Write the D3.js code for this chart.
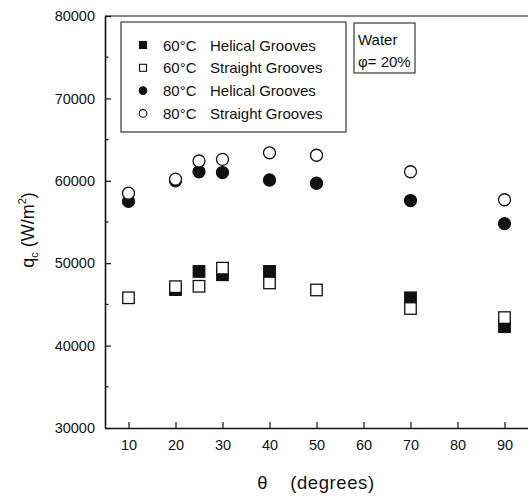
<!DOCTYPE html>
<html>
<head>
<meta charset="utf-8">
<script src="https://cdn.jsdelivr.net/npm/d3@7"></script>
<style>
  html, body { margin: 0; padding: 0; background: #fff; }
  svg { display: block; font-family: "Liberation Sans", Arial, sans-serif; }
</style>
</head>
<body>
<svg id="chart" width="528" height="496"></svg>
<script>
// Inclination angle of the tube (degrees)
const theta = [10, 20, 25, 30, 40, 50, 70, 90];

// Heat flux q_c (W/m^2) for each configuration; null = no point
const helical60  = [null, 46800, 49000, 48600, 49000, null, 45800, 42300];
const straight60 = [45800, 47150, 47200, 49400, 47600, 46750, 44500, 43400];
const helical80  = [57500, 60000, 61100, 61000, 60100, 59700, 57600, 54800];
const straight80 = [58500, 60200, 62400, 62600, 63400, 63100, 61100, 57700];

const xTicks = [10, 20, 30, 40, 50, 60, 70, 80, 90];
const yTicks = [30000, 40000, 50000, 60000, 70000, 80000];
const yMinorTicks = [35000, 45000, 55000, 65000, 75000];

const legendLabels = [
  ["60°C", "Helical Grooves"],
  ["60°C", "Straight Grooves"],
  ["80°C", "Helical Grooves"],
  ["80°C", "Straight Grooves"]
];

const svg = d3.select("#chart");
const ink = "#111";

const x = d3.scaleLinear().domain([5, 95]).range([105, 528]);
const y = d3.scaleLinear().domain([30000, 80000]).range([428, 16]);

// frame: top edge
svg.append("line")
  .attr("x1", x(5)).attr("x2", x(95))
  .attr("y1", y(80000)).attr("y2", y(80000))
  .attr("stroke", ink).attr("stroke-width", 1.2);

// bottom axis with inward ticks
const xAxis = svg.append("g").attr("transform", `translate(0,${y(30000)})`)
  .call(d3.axisBottom(x).tickValues(xTicks).tickSizeInner(-6).tickSizeOuter(0).tickPadding(12));
xAxis.select(".domain").attr("stroke", ink).attr("stroke-width", 1.6);
xAxis.selectAll(".tick line").attr("stroke", ink).attr("stroke-width", 1.2);
xAxis.selectAll(".tick text").attr("fill", ink).attr("font-size", 14.5)
  .attr("font-family", "Liberation Sans, Arial, sans-serif");

// left axis with inward major and minor ticks
const yAxis = svg.append("g").attr("transform", `translate(${x(5)},0)`)
  .call(d3.axisLeft(y).tickValues(yTicks).tickFormat(d3.format("d"))
    .tickSizeInner(-6).tickSizeOuter(0).tickPadding(10));
yAxis.select(".domain").attr("stroke", ink).attr("stroke-width", 1.6);
yAxis.selectAll(".tick line").attr("stroke", ink).attr("stroke-width", 1.2);
yAxis.selectAll(".tick text").attr("fill", ink).attr("font-size", 14.5)
  .attr("font-family", "Liberation Sans, Arial, sans-serif");

svg.append("g").selectAll("line").data(yMinorTicks).join("line")
  .attr("x1", x(5)).attr("x2", x(5) + 3.5)
  .attr("y1", d => y(d)).attr("y2", d => y(d))
  .attr("stroke", ink).attr("stroke-width", 1.2);

// axis titles
const yTitle = svg.append("text")
  .attr("transform", `translate(34,${y(55000) + 8}) rotate(-90)`)
  .attr("text-anchor", "middle").attr("font-size", 18).attr("fill", ink);
yTitle.append("tspan").text("q");
yTitle.append("tspan").attr("font-size", 11).attr("dy", 4).text("c");
yTitle.append("tspan").attr("dy", -4).text("\u00a0(W/m");
yTitle.append("tspan").attr("font-size", 11).attr("dy", -8).text("2");
yTitle.append("tspan").attr("dy", 8).text(")");

const xTitle = svg.append("text")
  .attr("x", 316).attr("y", 489).attr("text-anchor", "middle")
  .attr("font-size", 18.5).attr("fill", ink).attr("letter-spacing", 0.6);
xTitle.append("tspan").text("θ");
xTitle.append("tspan").attr("dx", 22).text("(degrees)");

// data markers
const side = 11.5, rad = 6;
function points(vals) {
  return theta.map((t, i) => ({ t, v: vals[i] })).filter(d => d.v !== null);
}
function squares(vals, filled) {
  svg.append("g").selectAll("rect").data(points(vals)).join("rect")
    .attr("x", d => x(d.t) - side / 2).attr("y", d => y(d.v) - side / 2)
    .attr("width", side).attr("height", side)
    .attr("fill", filled ? ink : "#fff").attr("stroke", ink).attr("stroke-width", 1.3);
}
function circles(vals, filled) {
  svg.append("g").selectAll("circle").data(points(vals)).join("circle")
    .attr("cx", d => x(d.t)).attr("cy", d => y(d.v)).attr("r", rad)
    .attr("fill", filled ? ink : "#fff").attr("stroke", ink).attr("stroke-width", 1.3);
}
squares(helical60, true);
circles(helical80, true);
squares(straight60, false);
circles(straight80, false);

// legend
const lg = svg.append("g");
lg.append("rect").attr("x", 121).attr("y", 22).attr("width", 225).attr("height", 110)
  .attr("fill", "none").attr("stroke", ink).attr("stroke-width", 1);
legendLabels.forEach((lab, i) => {
  const cy = 45 + i * 22.8;
  const filled = i % 2 === 0;
  if (i < 2) {
    lg.append("rect").attr("x", 143 - 3.5).attr("y", cy - 3.5).attr("width", 7).attr("height", 7)
      .attr("fill", filled ? ink : "#fff").attr("stroke", ink).attr("stroke-width", 1.1);
  } else {
    lg.append("circle").attr("cx", 143).attr("cy", cy).attr("r", 3.8)
      .attr("fill", filled ? ink : "#fff").attr("stroke", ink).attr("stroke-width", 1.1);
  }
  lg.append("text").attr("x", 163).attr("y", cy + 5.5).attr("font-size", 15).attr("fill", ink).text(lab[0]);
  lg.append("text").attr("x", 210).attr("y", cy + 5.5).attr("font-size", 15).attr("fill", ink).text(lab[1]);
});

// fluid / concentration note
const note = svg.append("g");
note.append("rect").attr("x", 354).attr("y", 23).attr("width", 61).attr("height", 50)
  .attr("fill", "none").attr("stroke", ink).attr("stroke-width", 1);
note.append("text").attr("x", 358).attr("y", 45).attr("font-size", 15).attr("fill", ink).text("Water");
note.append("text").attr("x", 358).attr("y", 67).attr("font-size", 15).attr("fill", ink).text("φ= 20%");
</script>
</body>
</html>
